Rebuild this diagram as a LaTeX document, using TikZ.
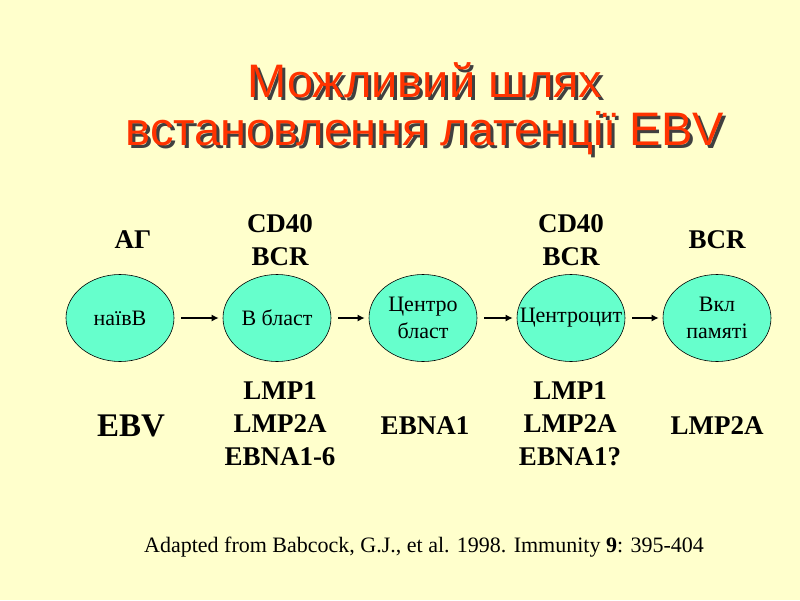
\documentclass[tikz,border=0pt]{standalone}
\usepackage{fontspec}
\setmainfont{Liberation Serif}
\newfontfamily\arialf{Liberation Sans}
\begin{document}
\begin{tikzpicture}[x=1pt,y=-1pt,
  cell/.style={ellipse,draw=black,line width=0.6pt,fill=cellc,minimum width=108pt,minimum height=87pt,inner sep=0pt,align=center,font=\fontsize{22}{27}\selectfont},
  lab/.style={font=\fontsize{27}{33}\selectfont\bfseries,align=center},
  arr/.style={-{Latex[length=7pt,width=7pt]},line width=2pt},
  ttl/.style={font=\arialf\fontsize{47}{54}\selectfont,text=titc,align=center}]
\usetikzlibrary{shapes.geometric,arrows.meta}
\definecolor{cellc}{HTML}{66FFCC}
\definecolor{titc}{HTML}{FF3300}
\definecolor{bgc}{HTML}{FFFFCC}
\fill[bgc] (0,0) rectangle (800,600);
\useasboundingbox (0,0) rectangle (800,600);
\node[ttl,text=black!75] at (428,83) {Можливий шлях};
\node[ttl] (t1) at (425,80) {Можливий шлях};
\node[ttl,text=black!75] at (428,136) {встановлення латенції EBV};
\node[ttl] (t2) at (425,133) {встановлення латенції EBV};
\node[cell] (a) at (120,318) {наївВ};
\node[cell] (b) at (277,318) {В бласт};
\node[cell] (c) at (423,318) {Центро\\бласт};
\node[cell] (d) at (571,318) {\makebox[0pt]{Центроцит}};
\node[cell] (e) at (717,318) {Вкл\\памяті};
\foreach \p/\q in {a/b,b/c,c/d,d/e} \draw[arr] ([xshift=7pt]\p.east) -- ([xshift=-4pt]\q.west);
\node[lab] (l1) at (133,240) {АГ};
\node[lab] (l2) at (280,240) {CD40\\BCR};
\node[lab] (l3) at (571,240) {CD40\\BCR};
\node[lab] (l4) at (717,240) {BCR};
\node[lab,font=\fontsize{33}{38}\selectfont\bfseries] (m1) at (131,426) {EBV};
\node[lab] (m2) at (280,424) {LMP1\\LMP2A\\EBNA1-6};
\node[lab] (m3) at (425,426) {EBNA1};
\node[lab] (m4) at (570,424) {LMP1\\LMP2A\\EBNA1?};
\node[lab] (m5) at (717,426) {LMP2A};
\node[font=\fontsize{22}{26}\selectfont] (src) at (424,547) {Adapted from Babcock, G.J., et al. 1998. Immunity \textbf{9}: 395-404};
\end{tikzpicture}
\end{document}
